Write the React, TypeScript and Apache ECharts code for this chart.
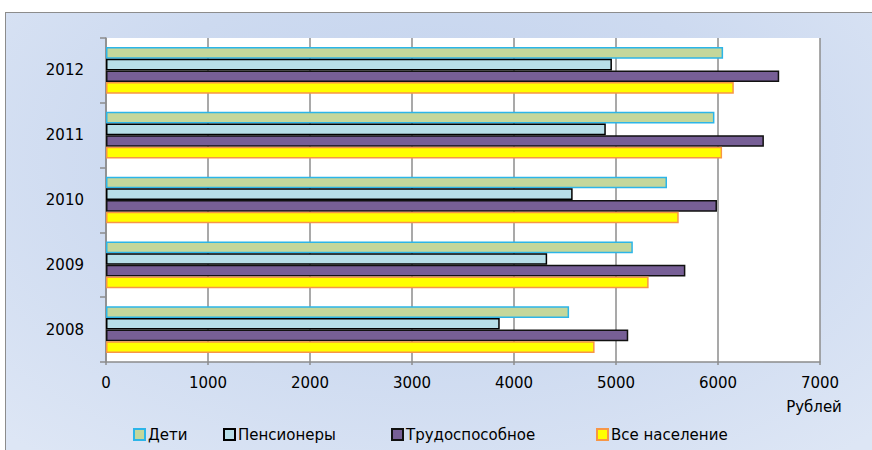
import React, { useEffect, useRef } from "react";
import * as echarts from "echarts";

const years = ["2008", "2009", "2010", "2011", "2012"];
const children = [4540, 5165, 5500, 5965, 6050];
const pensioners = [3860, 4325, 4575, 4900, 4960];
const working = [5120, 5680, 5990, 6450, 6600];
const total = [4790, 5320, 5615, 6040, 6155];

const seriesNames = ["Дети", "Пенсионеры", "Трудоспособное", "Все население"];
const seriesData = [children, pensioners, working, total];
const fills = ["#c4d79b", "#b7dee8", "#775f96", "#ffff00"];
const borders = ["#2cb5e8", "#000000", "#111111", "#f79646"];
const legendLeft = [133, 223, 391, 596];

const xMin = 0;
const xMax = 7000;
const xStep = 1000;
const unitLabel = "Рублей";

const FONT = "DejaVu Sans";

export default function App() {
  const ref = useRef<HTMLDivElement>(null);
  useEffect(() => {
    if (!ref.current) return;
    const chart = echarts.init(ref.current, undefined, { renderer: "svg" });
    chart.setOption({
      animation: false,
      textStyle: { fontFamily: FONT },
      grid: {
        left: 106,
        top: 38,
        right: 52,
        bottom: 88,
        containLabel: false,
        outerBoundsMode: "none",
        show: true,
        backgroundColor: "#ffffff",
        borderWidth: 0,
      },
      legend: seriesNames.map((n, i) => ({
        data: [n],
        left: legendLeft[i],
        top: 427,
        padding: 0,
        itemWidth: 11,
        itemHeight: 11,
        itemGap: 0,
        icon: "rect",
        textStyle: { fontFamily: FONT, fontSize: 15, color: "#000", padding: [0, 0, 0, -2] },
      })),
      xAxis: {
        type: "value",
        min: xMin,
        max: xMax,
        interval: xStep,
        axisLine: { show: true, lineStyle: { color: "#8c8c8c", width: 1.5 } },
        axisTick: { show: true, length: 3, lineStyle: { color: "#8c8c8c", width: 1.5 } },
        splitLine: { show: true, lineStyle: { color: "#8c8c8c", width: 1.5 } },
        axisLabel: {
          margin: 13,
          color: "#000",
          fontSize: 15,
          fontFamily: FONT,
          formatter: (v: number) => String(v),
        },
      },
      yAxis: {
        type: "category",
        data: years,
        axisLine: { show: true, lineStyle: { color: "#8c8c8c", width: 1.5 } },
        axisTick: { show: true, length: 6, lineStyle: { color: "#8c8c8c", width: 1.5 } },
        axisLabel: { margin: 22, color: "#000", fontSize: 15, fontFamily: FONT },
      },
      graphic: [
        {
          type: "text",
          x: 814,
          y: 407,
          style: {
            text: unitLabel,
            fill: "#000",
            font: `15px "${FONT}"`,
            textAlign: "center",
            textVerticalAlign: "middle",
          },
        },
      ],
      series: seriesNames.map((n, i) => ({
        name: n,
        type: "bar",
        data: seriesData[i],
        barGap: "0%",
        barCategoryGap: "28%",
        itemStyle: { color: fills[i], borderColor: borders[i], borderWidth: 1.5 },
      })),
    });
    return () => chart.dispose();
  }, []);

  return (
    <div style={{ position: "absolute", left: 0, top: 0, width: 872, height: 450, background: "#fff", overflow: "hidden" }}>
      <div
        style={{
          position: "absolute",
          left: 5,
          top: 12,
          width: 900,
          height: 480,
          border: "1.5px solid #8c8c8c",
          background: "radial-gradient(ellipse 70% 80% at 48% 30%, #c3d3ee 0%, #cddaf0 50%, #dde6f5 100%)",
        }}
      />
      <div ref={ref} style={{ position: "absolute", left: 0, top: 0, width: 872, height: 450 }} />
    </div>
  );
}
